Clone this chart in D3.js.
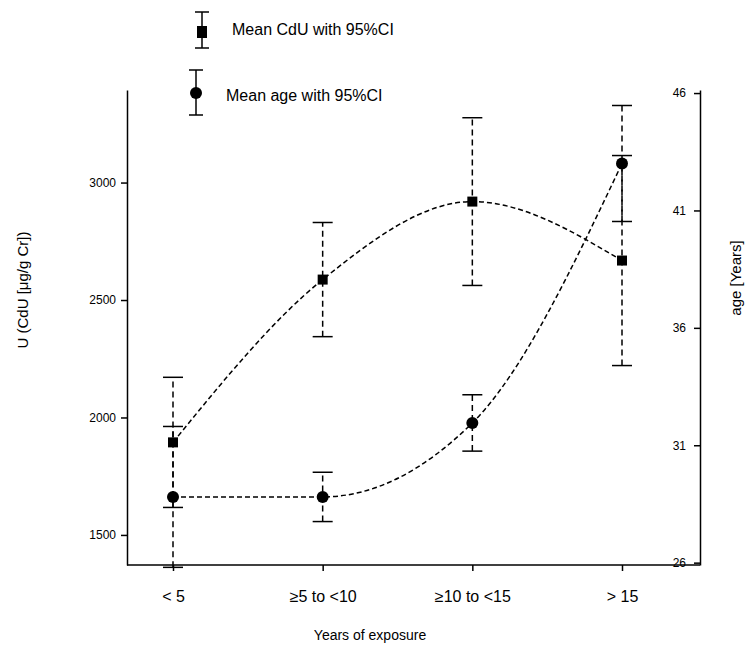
<!DOCTYPE html>
<html>
<head>
<meta charset="utf-8">
<script src="https://cdn.jsdelivr.net/npm/d3@7/dist/d3.min.js"></script>
<style>
  html, body { margin: 0; padding: 0; background: #fff; }
  svg { display: block; font-family: "Liberation Sans", Arial, sans-serif; }
</style>
</head>
<body>
<svg id="chart" width="749" height="658"></svg>
<script>
// ---- data ----
const categories = ["< 5", "\u22655 to <10", "\u226510 to <15", "> 15"];
const cduMean = [1894, 2587, 2919, 2668];
const cduCI   = [277, 243, 357, 447];
const ageMean = [28.8, 28.8, 31.95, 43.0];
const ageCI   = [3.0, 1.05, 1.2, 2.47];
const leftTicks  = [1500, 2000, 2500, 3000];
const rightTicks = [26, 31, 36, 41, 46];

// ---- layout ----
const svg = d3.select("#chart");
const plotTop = 90, plotBottom = 565, leftX = 127, rightX = 700;

const x = d3.scalePoint().domain(categories).range([173, 622]);
const yL = d3.scaleLinear().domain([1372, 3394]).range([plotBottom, plotTop]);
const yR = d3.scaleLinear().domain([25.9, 46.13]).range([plotBottom, plotTop]);

// axes
const axL = svg.append("g").attr("transform", `translate(${leftX},0)`)
  .call(d3.axisLeft(yL).tickValues(leftTicks).tickFormat(d3.format("d")).tickSize(6).tickSizeOuter(0).tickPadding(5));
const axR = svg.append("g").attr("transform", `translate(${rightX},0)`)
  .call(d3.axisLeft(yR).tickValues(rightTicks).tickFormat(d3.format("d")).tickSize(6).tickSizeOuter(0).tickPadding(8));
const axB = svg.append("g").attr("transform", `translate(0,${plotBottom})`)
  .call(d3.axisBottom(x).tickSize(6).tickSizeOuter(0).tickPadding(20));
axB.select(".domain").attr("d", `M${leftX},0H${rightX}`);
[axL, axR, axB].forEach(a => {
  a.selectAll("path,line").attr("stroke", "#000").attr("stroke-width", 1.5);
  a.selectAll("text").attr("fill", "#000");
});
axL.selectAll("text").attr("font-size", 12);
axR.selectAll("text").attr("font-size", 12);
axB.selectAll("text").attr("font-size", 16);

// axis titles
svg.append("text").attr("transform", "translate(28,290) rotate(-90)")
  .attr("text-anchor", "middle").attr("font-size", 15).text("U (CdU [\u03bcg/g Cr])");
svg.append("text").attr("transform", "translate(741,278) rotate(-90)")
  .attr("text-anchor", "middle").attr("font-size", 15).text("age [Years]");
svg.append("text").attr("x", 370).attr("y", 640)
  .attr("text-anchor", "middle").attr("font-size", 14).text("Years of exposure");

// series
function drawSeries(mean, ci, y, shape) {
  const pts = categories.map((c, i) => ({ c, m: mean[i], e: ci[i] }));
  const line = d3.line().x(d => x(d.c)).y(d => y(d.m)).curve(d3.curveMonotoneX);
  svg.append("path").datum(pts).attr("d", line)
    .attr("fill", "none").attr("stroke", "#000").attr("stroke-width", 1.5)
    .attr("stroke-dasharray", "5,3");
  const g = svg.append("g");
  pts.forEach(d => {
    const cx = x(d.c);
    g.append("line").attr("x1", cx).attr("x2", cx)
      .attr("y1", y(d.m - d.e)).attr("y2", y(d.m + d.e))
      .attr("stroke", "#000").attr("stroke-width", 1.5).attr("stroke-dasharray", "6,4");
    [d.m - d.e, d.m + d.e].forEach(v => {
      g.append("line").attr("x1", cx - 10).attr("x2", cx + 10)
        .attr("y1", y(v)).attr("y2", y(v)).attr("stroke", "#000").attr("stroke-width", 1.5);
    });
    if (shape === "square") {
      g.append("rect").attr("x", cx - 5).attr("y", y(d.m) - 5).attr("width", 10).attr("height", 10).attr("fill", "#000");
    } else {
      g.append("circle").attr("cx", cx).attr("cy", y(d.m)).attr("r", 6).attr("fill", "#000");
    }
  });
}
drawSeries(cduMean, cduCI, yL, "square");
drawSeries(ageMean, ageCI, yR, "circle");

// legend
const lg = svg.append("g");
function legendItem(cx, yTop, yMid, yBot, shape, label, tx, ty) {
  lg.append("line").attr("x1", cx).attr("x2", cx).attr("y1", yTop).attr("y2", yBot)
    .attr("stroke", "#000").attr("stroke-width", 1.5);
  [yTop, yBot].forEach(v => lg.append("line").attr("x1", cx - 7).attr("x2", cx + 7)
    .attr("y1", v).attr("y2", v).attr("stroke", "#000").attr("stroke-width", 1.5));
  if (shape === "square") lg.append("rect").attr("x", cx - 5).attr("y", yMid - 6).attr("width", 10).attr("height", 12).attr("fill", "#000");
  else lg.append("circle").attr("cx", cx).attr("cy", yMid).attr("r", 6).attr("fill", "#000");
  lg.append("text").attr("x", tx).attr("y", ty).attr("font-size", 16).text(label);
}
legendItem(202, 12, 32, 48, "square", "Mean CdU with 95%CI", 232, 35);
legendItem(196, 70, 93, 115, "circle", "Mean age with 95%CI", 226, 101);
</script>
</body>
</html>
